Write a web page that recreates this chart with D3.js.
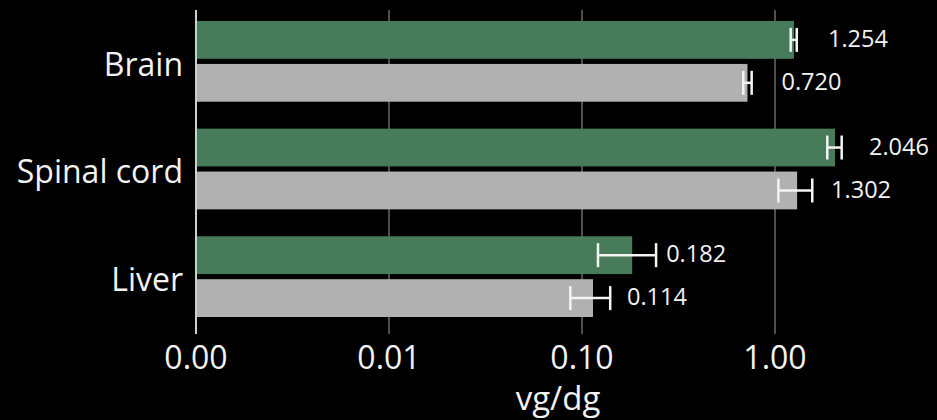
<!DOCTYPE html>
<html>
<head>
<meta charset="utf-8">
<script src="https://cdn.jsdelivr.net/npm/d3@7"></script>
<style>
  html, body { margin: 0; padding: 0; background: #000; }
  svg { display: block; }
  text { font-family: "Open Sans", sans-serif; fill: #f2f2f2; }
</style>
</head>
<body>
<svg id="chart" width="937" height="420"></svg>
<script>
// Tissue concentrations on a log axis, two series per tissue
const categories = ["Brain", "Spinal cord", "Liver"];
const seriesKeys = ["first", "second"];
const seriesColors = ["#487b5a", "#b1b1b1"];
const firstValues  = [1.254, 2.046, 0.182];
const firstLow     = [1.206, 1.866, 0.121];
const firstHigh    = [1.296, 2.216, 0.242];
const secondValues = [0.720, 1.302, 0.114];
const secondLow    = [0.685, 1.041, 0.087];
const secondHigh   = [0.757, 1.560, 0.140];
const tickValues = [0.001, 0.01, 0.1, 1];
const tickLabels = ["0.00", "0.01", "0.10", "1.00"];
const axisTitle = "vg/dg";

const rows = [];
categories.forEach((c, i) => {
  rows.push({ cat: c, key: "first", value: firstValues[i], lo: firstLow[i], hi: firstHigh[i] });
  rows.push({ cat: c, key: "second", value: secondValues[i], lo: secondLow[i], hi: secondHigh[i] });
});

const svg = d3.select("#chart");
const plotLeft = 196, plotTop = 10, plotBottom = 334;

const x = d3.scaleLog().domain([0.001, 10]).range([plotLeft, 968]);
const y0 = d3.scaleBand().domain(categories).range([21, 317]).paddingInner(0.25).paddingOuter(0);
const y1 = d3.scaleBand().domain(seriesKeys).range([0, y0.bandwidth()]).paddingInner(0.12);
const color = d3.scaleOrdinal().domain(seriesKeys).range(seriesColors);

// vertical grid lines (extend below the bars as tick marks)
svg.append("g").selectAll("line")
  .data(tickValues)
  .join("line")
  .attr("x1", d => x(d)).attr("x2", d => x(d))
  .attr("y1", plotTop).attr("y2", plotBottom)
  .attr("stroke", (d, i) => i === 0 ? "#cfcfcf" : "#7a7a7a")
  .attr("stroke-width", (d, i) => i === 0 ? 2 : 1.3);

// bars
svg.append("g").selectAll("rect")
  .data(rows)
  .join("rect")
  .attr("x", x(0.001) + 1)
  .attr("y", d => y0(d.cat) + y1(d.key))
  .attr("width", d => x(d.value) - x(0.001) - 1)
  .attr("height", y1.bandwidth())
  .attr("fill", d => color(d.key));

// error bars
const capH = 24;
const eb = svg.append("g").attr("stroke", "#f4f4f4").attr("stroke-width", 2.5);
rows.forEach(d => {
  const cy = y0(d.cat) + y1(d.key) + y1.bandwidth() / 2;
  eb.append("line").attr("x1", x(d.lo)).attr("x2", x(d.hi)).attr("y1", cy).attr("y2", cy);
  eb.append("line").attr("x1", x(d.lo)).attr("x2", x(d.lo)).attr("y1", cy - capH / 2).attr("y2", cy + capH / 2);
  eb.append("line").attr("x1", x(d.hi)).attr("x2", x(d.hi)).attr("y1", cy - capH / 2).attr("y2", cy + capH / 2);
});

// value labels
svg.append("g").selectAll("text")
  .data(rows)
  .join("text")
  .attr("x", d => x(d.value) + 34)
  .attr("y", d => y0(d.cat) + y1(d.key) + y1.bandwidth() / 2)
  .attr("dy", "0.3em")
  .attr("font-size", 23.5)
  .text(d => d3.format(".3f")(d.value));

// category labels
svg.append("g").selectAll("text")
  .data(categories)
  .join("text")
  .attr("x", 183)
  .attr("y", d => y0(d) + y0.bandwidth() / 2)
  .attr("dy", "0.45em")
  .attr("text-anchor", "end")
  .attr("font-size", 32)
  .text(d => d);

// x tick labels
svg.append("g").selectAll("text")
  .data(tickValues)
  .join("text")
  .attr("x", d => x(d))
  .attr("y", 369)
  .attr("text-anchor", "middle")
  .attr("font-size", 32)
  .text((d, i) => tickLabels[i]);

// axis title
svg.append("text")
  .attr("x", 558)
  .attr("y", 410)
  .attr("text-anchor", "middle")
  .attr("font-size", 33)
  .text(axisTitle);
</script>
</body>
</html>
